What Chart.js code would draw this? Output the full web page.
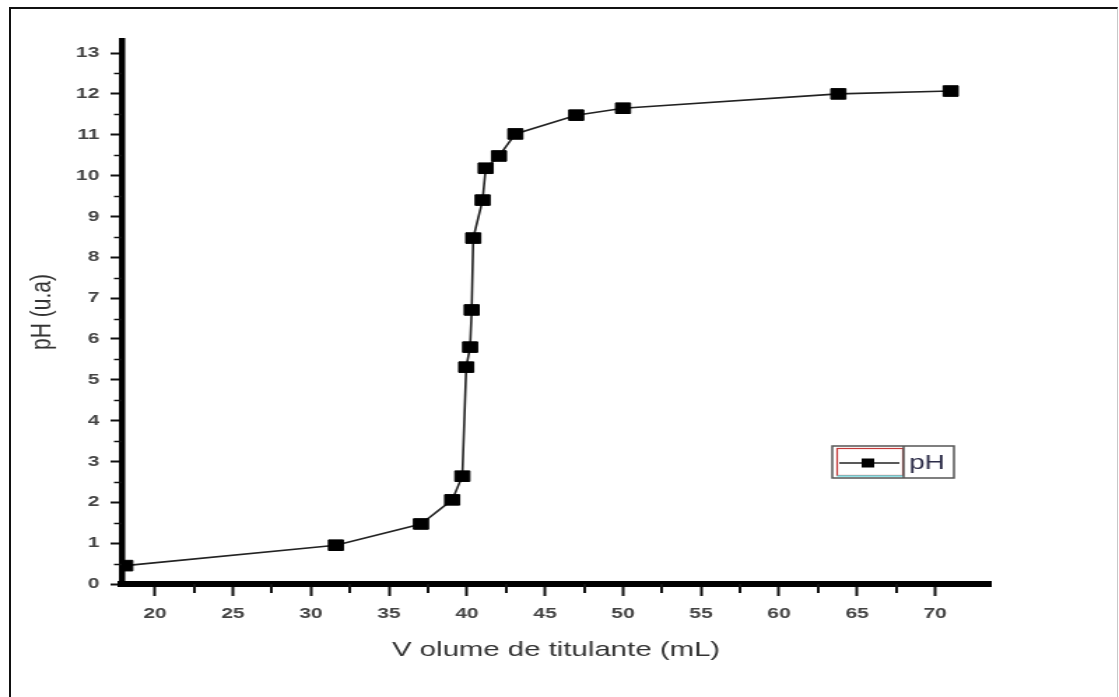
<!DOCTYPE html>
<html>
<head>
<meta charset="utf-8">
<title>pH - Volume de titulante</title>
<script src="https://cdn.jsdelivr.net/npm/chart.js@4.4.1/dist/chart.umd.min.js"></script>
<style>
html, body { margin: 0; padding: 0; background: #fff; overflow: hidden; }
body { width: 1119px; height: 697px; position: relative; }
#frame { position: absolute; left: 9px; top: 7px; width: 1106px; height: 700px;
  border-left: 2px solid #111; border-top: 2px solid #111; border-right: 1px solid #c8c8c8; }
/* the original picture is stretched sideways, so the chart is drawn narrow and scaled */
#wrap { position: absolute; left: 0; top: 0; width: 800px; height: 697px;
  transform: scaleX(1.39875); transform-origin: 0 0; }
</style>
</head>
<body>
<div id="frame"></div>
<div id="wrap"><canvas id="phChart"></canvas></div>
<script>
// titration data
const volume = [18.1, 31.6, 37.05, 39.05, 39.7, 39.95, 40.2, 40.3, 40.4, 41.0, 41.2, 42.05, 43.1, 47.0, 50.0, 63.8, 71.0];
const phValues = [0.45, 0.95, 1.47, 2.06, 2.64, 5.31, 5.80, 6.71, 8.47, 9.40, 10.18, 10.48, 11.02, 11.48, 11.65, 12.0, 12.07];

const xTicks = [20, 25, 30, 35, 40, 45, 50, 55, 60, 65, 70];
const yTicks = [0, 1, 2, 3, 4, 5, 6, 7, 8, 9, 10, 11, 12, 13];

const seriesName = "pH";

const points = volume.map((v, i) => ({ x: v, y: phValues[i] }));

// short ticks halfway between the labelled ones
const minorTicks = {
  id: "minorTicks",
  afterDraw(chart) {
    const ctx = chart.ctx;
    const area = chart.chartArea;
    const xs = chart.scales.x;
    const ys = chart.scales.y;
    ctx.save();
    ctx.strokeStyle = "#111";
    ctx.lineWidth = 2;
    for (let i = 0; i < xTicks.length - 1; i++) {
      const px = Math.round(xs.getPixelForValue((xTicks[i] + xTicks[i + 1]) / 2));
      ctx.beginPath();
      ctx.moveTo(px, area.bottom);
      ctx.lineTo(px, area.bottom + 9);
      ctx.stroke();
    }
    ctx.lineWidth = 1.5;
    for (let i = 0; i < yTicks.length - 1; i++) {
      const py = Math.round(ys.getPixelForValue((yTicks[i] + yTicks[i + 1]) / 2)) + 0.5;
      ctx.beginPath();
      ctx.moveTo(area.left - 5.5, py);
      ctx.lineTo(area.left, py);
      ctx.stroke();
    }
    ctx.restore();
  }
};

// boxed legend inside the plot, like the Origin one
const legendBox = {
  id: "legendBox",
  afterDraw(chart) {
    const ctx = chart.ctx;
    const ds = chart.data.datasets[0];
    const x0 = chart.chartArea.left + 508;
    const y0 = 446;
    const w = 87, h = 32;
    ctx.save();
    ctx.fillStyle = "#fff";
    ctx.fillRect(x0, y0, w, h);
    // sample area outline
    ctx.strokeStyle = "#c43a3a";
    ctx.lineWidth = 1.2;
    ctx.strokeRect(x0 + 3.5, y0 + 2.5, 47, h - 5);
    ctx.strokeStyle = "#6fe0e6";
    ctx.lineWidth = 1.5;
    ctx.beginPath();
    ctx.moveTo(x0 + 3.5, y0 + h - 2);
    ctx.lineTo(x0 + 50.5, y0 + h - 2);
    ctx.stroke();
    // outer box
    ctx.strokeStyle = "#555";
    ctx.lineWidth = 1.5;
    ctx.strokeRect(x0, y0, w, h);
    ctx.beginPath();
    ctx.moveTo(x0 + 51, y0);
    ctx.lineTo(x0 + 51, y0 + h);
    ctx.stroke();
    // line + marker sample
    const cy = y0 + 17;
    ctx.strokeStyle = ds.borderColor;
    ctx.lineWidth = 1.5;
    ctx.beginPath();
    ctx.moveTo(x0 + 5, cy);
    ctx.lineTo(x0 + 48, cy);
    ctx.stroke();
    ctx.fillStyle = "#000";
    ctx.fillRect(x0 + 21, cy - 4.5, 9, 9);
    ctx.fillStyle = "#2c2c48";
    ctx.font = "20px Arial";
    ctx.textBaseline = "middle";
    ctx.textAlign = "left";
    ctx.fillText(ds.label, x0 + 55, cy);
    ctx.restore();
  }
};

const ctx = document.getElementById("phChart").getContext("2d");

new Chart(ctx, {
  type: "line",
  data: {
    datasets: [{
      label: seriesName,
      data: points,
      borderColor: "#222",
      borderWidth: 1.6,
      tension: 0,
      pointStyle: "rect",
      pointRadius: 7.5,
      pointHoverRadius: 7.5,
      pointBackgroundColor: "#000",
      pointBorderColor: "#000",
      pointBorderWidth: 1
    }]
  },
  options: {
    responsive: true,
    maintainAspectRatio: false,
    animation: false,
    events: [],
    layout: { padding: { left: 0, top: 40, right: 92, bottom: 0 } },
    plugins: {
      legend: { display: false },
      tooltip: { enabled: false }
    },
    scales: {
      x: {
        type: "linear",
        min: 17.87,
        max: 73.54,
        afterBuildTicks: s => { s.ticks = xTicks.map(v => ({ value: v })); },
        afterFit: s => { s.height = 113; },
        ticks: {
          autoSkip: false,
          maxRotation: 0,
          padding: 9,
          color: "#444",
          font: { family: "Arial", size: 15, weight: "bold" }
        },
        grid: { drawOnChartArea: false, drawTicks: true, tickLength: 12, tickWidth: 2, tickColor: "#111" },
        border: { display: true, color: "#000", width: 6 },
        title: {
          display: true,
          text: "V olume de titulante (mL)",
          color: "#333",
          font: { family: "Arial", size: 21 },
          padding: { top: 0, bottom: 34 }
        }
      },
      y: {
        type: "linear",
        min: 0,
        max: 13.32,
        afterBuildTicks: s => { s.ticks = yTicks.map(v => ({ value: v })); },
        afterFit: s => { s.width = 87; },
        ticks: {
          padding: 8,
          color: "#444",
          font: { family: "Arial", size: 15, weight: "bold" }
        },
        grid: { drawOnChartArea: false, drawTicks: true, tickLength: 8, tickWidth: 2, tickColor: "#111" },
        border: { display: true, color: "#000", width: 4.5 },
        title: {
          display: true,
          text: "pH (u.a)",
          color: "#333",
          font: { family: "Arial", size: 21 },
          padding: { top: 18, bottom: 0 }
        }
      }
    }
  },
  plugins: [minorTicks, legendBox]
});
</script>
</body>
</html>
